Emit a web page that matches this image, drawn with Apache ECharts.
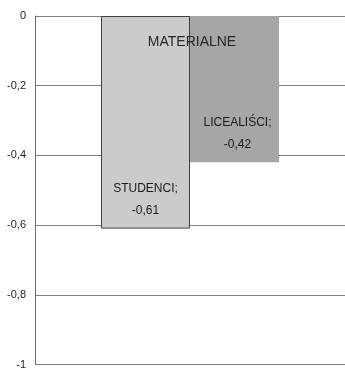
<!DOCTYPE html>
<html><head><meta charset="utf-8">
<script src="https://cdn.jsdelivr.net/npm/echarts@6/dist/echarts.min.js"></script>
<style>html,body{margin:0;padding:0;background:#fff}#c{width:345px;height:370px}</style>
</head><body><div id="c"></div>
<script>
const categories = ['MATERIALNE'];
const seriesNames = ['STUDENCI', 'LICEALIŚCI'];
const studenci = [-0.61];
const licealisci = [-0.42];
const yTicks = [0, -0.2, -0.4, -0.6, -0.8, -1];

const chart = echarts.init(document.getElementById('c'));
const fmt = v => String(v).replace('.', ',');
const labelCfg = {
  show: true,
  position: 'insideBottom',
  distance: 7,
  formatter: p => p.seriesName + ';\n' + fmt(p.value),
  color: '#1a1a1a',
  fontFamily: 'Liberation Sans, Arial, sans-serif',
  fontSize: 12,
  lineHeight: 22
};
chart.setOption({
  animation: false,
  grid: {left: 35, width: 314, top: 16, height: 352, containLabel: false},
  graphic: [{
    type: 'text', x: 192, y: 42, z: 100,
    style: {text: categories[0], textAlign: 'center', textVerticalAlign: 'middle',
      fontFamily: 'Liberation Sans, Arial, sans-serif', fontSize: 14, fill: '#262626'}
  }],
  xAxis: {
    type: 'category', data: categories, position: 'top',
    axisLine: {show: false}, axisTick: {show: false}, axisLabel: {show: false}
  },
  yAxis: {
    type: 'value', min: -1, max: 0, interval: 0.2,
    axisLine: {show: true, lineStyle: {color: '#6e6e6e', width: 1}},
    axisTick: {show: false},
    axisLabel: {
      formatter: v => fmt(Math.round(v * 10) / 10),
      color: '#262626', fontSize: 11, fontFamily: 'Liberation Sans, Arial, sans-serif', margin: 9
    },
    splitLine: {show: true, lineStyle: {color: '#7f7f7f', width: 1}}
  },
  series: [
    {name: seriesNames[0], type: 'bar', data: studenci, barWidth: 89, barGap: '0%',
     itemStyle: {color: '#cbcbcb', borderColor: '#404040', borderWidth: 1},
     label: labelCfg},
    {name: seriesNames[1], type: 'bar', data: licealisci, barWidth: 89, barGap: '0%',
     itemStyle: {color: '#a6a6a6'},
     label: Object.assign({}, labelCfg, {offset: [3, 0]})}
  ]
});
</script></body></html>
